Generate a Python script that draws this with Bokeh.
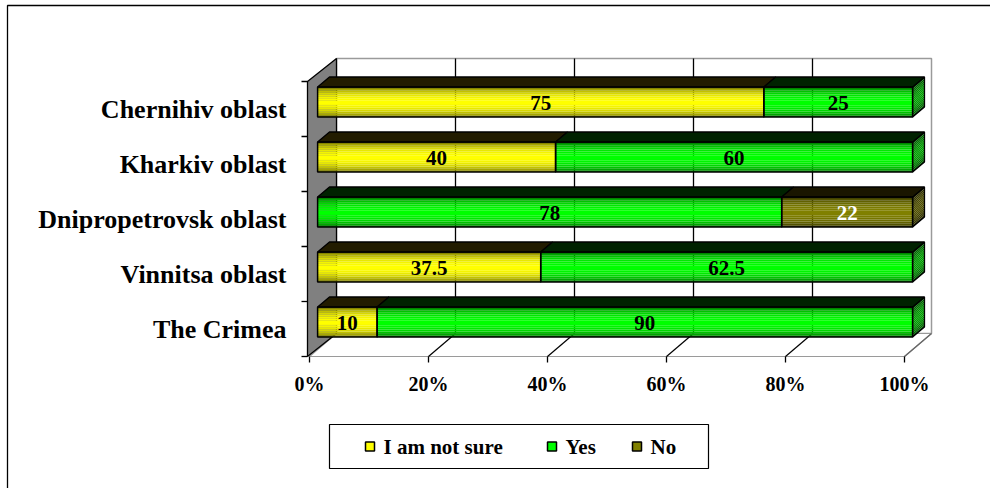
from bokeh.plotting import figure
from bokeh.models import Range1d, ColumnDataSource
from bokeh.core.properties import value
from bokeh.embed import file_html
from bokeh.resources import INLINE

# ---- data -------------------------------------------------------------
regions = ["The Crimea", "Vinnitsa oblast", "Dnipropetrovsk oblast",
           "Kharkiv oblast", "Chernihiv oblast"]          # bottom to top
series_names = ["I am not sure", "Yes", "No"]
not_sure = [10, 37.5, 0, 40, 75]
yes = [90, 62.5, 78, 60, 25]
no = [0, 0, 22, 0, 0]
tick_labels = ["0%", "20%", "40%", "60%", "80%", "100%"]

series_values = [not_sure, yes, no]
base_rgb = [(255, 255, 0), (0, 255, 0), (128, 128, 0)]
top_colors = ["#221c00", "#002200", "#1a1600"]
label_colors = ["black", "black", "white"]

FONT = value("Liberation Serif")

# ---- scale: x in percent, y in category bands ---------------------------
W, H = 990, 488
X0, SX = 309.0, 5.95      # pixel of 0 % on the front plane, px per percent
Y0, SY = 356.0, 55.0      # pixel of the front floor edge, px per band
DX, DY = 27.0 / SX, 23.0 / SY   # full depth of the 3-D box
D1, D2 = 0.30, 0.74             # bar front / back depth fractions
HALF = 15.0 / SY                # half bar height


def px(x):
    return (x - X0) / SX


def py(y):
    return (Y0 - y) / SY


p = figure(width=W, height=H, output_backend="svg", toolbar_location=None,
           x_range=Range1d(px(0), px(W)), y_range=Range1d(py(H), py(0)),
           min_border=0, x_axis_location=None, y_axis_location=None)
p.outline_line_color = None
p.grid.visible = False
p.background_fill_color = "white"
p.border_fill_color = "white"

n = len(regions)

# outer chart border
p.quad(left=[px(7)], right=[px(W + 10)], bottom=[py(H + 10)], top=[py(5)],
       fill_color=None, line_color="black", line_width=1.3)

# back wall
p.patch([DX, 100 + DX, 100 + DX, DX], [DY, DY, n + DY, n + DY],
        fill_color="white", line_color="#9a9a9a", line_width=1.5)
# vertical gridlines on the back wall
grid_pcts = [20, 40, 60, 80]
p.multi_line([[g + DX, g + DX] for g in grid_pcts],
             [[DY, n + DY] for _ in grid_pcts], line_color="black", line_width=1.3)

# floor
p.patch([0, 100, 100 + DX, DX], [0, 0, DY, DY],
        fill_color="white", line_color="#9a9a9a", line_width=1.2)
floor_pcts = [20, 40, 60, 80]
p.multi_line([[g, g + DX] for g in floor_pcts], [[0, DY] for _ in floor_pcts],
             line_color="black", line_width=1.2)
p.line([100, 100 + DX], [0, DY], line_color="#666666", line_width=1.2)

# left side wall
wx = px(307)
p.patch([wx, wx, DX, DX], [0, n, n + DY, DY],
        fill_color="#808080", line_color="black", line_width=1.3)

# category axis ticks
p.segment(x0=[px(301)] * (n + 1), y0=list(range(n + 1)),
          x1=[wx] * (n + 1), y1=list(range(n + 1)), line_color="black", line_width=1.3)

# percent axis ticks
tick_pcts = [0, 20, 40, 60, 80, 100]
p.segment(x0=tick_pcts, y0=[0] * 6, x1=tick_pcts, y1=[-6 / SY] * 6,
          line_color="black", line_width=1.3)
p.text(x=tick_pcts, y=[py(383)] * 6, text=tick_labels, text_font=FONT,
       text_font_style="bold", text_font_size="20px", text_align="center",
       text_baseline="middle", text_color="black")

# category labels
p.text(x=[px(286)] * n, y=[i + 0.5 for i in range(n)], text=regions,
       text_font=FONT, text_font_style="bold", text_font_size="26px",
       text_align="right", text_baseline="middle", text_color="black")

# ---- bars -------------------------------------------------------------
NS = 16
strip_l, strip_r, strip_b, strip_t, strip_c = [], [], [], [], []
tops_x, tops_y, tops_c = [], [], []
side_x, side_y, side_c = [], [], []
outline_l, outline_r, outline_b, outline_t = [], [], [], []
lab_x, lab_y, lab_t, lab_c = [], [], [], []

fdx, fdy = D1 * DX, D1 * DY
bdx, bdy = (D2 - D1) * DX, (D2 - D1) * DY


def shade(rgb, b):
    return "#%02x%02x%02x" % tuple(int(round(c * b)) for c in rgb)


for i in range(n):
    yc = i + 0.5 + fdy
    yb, yt = yc - HALF, yc + HALF
    start = 0.0
    last_k, last_end = None, None
    for k, vals in enumerate(series_values):
        v = vals[i]
        if v <= 0:
            continue
        x0, x1 = start + fdx, start + v + fdx
        for j in range(NS):
            t = (j + 0.5) / NS
            b = 1.0 - 0.55 * abs(2 * t - 1) ** 2.2
            strip_l.append(x0)
            strip_r.append(x1)
            strip_b.append(yb + (yt - yb) * j / NS)
            strip_t.append(yb + (yt - yb) * (j + 1) / NS)
            strip_c.append(shade(base_rgb[k], b))
        outline_l.append(x0)
        outline_r.append(x1)
        outline_b.append(yb)
        outline_t.append(yt)
        tops_x.append([x0, x1, x1 + bdx, x0 + bdx])
        tops_y.append([yt, yt, yt + bdy, yt + bdy])
        tops_c.append(top_colors[k])
        lab_x.append((x0 + x1) / 2)
        lab_y.append(yc - 1.0 / SY)
        lab_t.append(f"{v:g}")
        lab_c.append(label_colors[k])
        start += v
        last_k, last_end = k, x1
    # right end face of the stack
    for j in range(NS):
        t = (j + 0.5) / NS
        b = 0.62 - 0.35 * abs(2 * t - 1) ** 2.0
        ya = yb + (yt - yb) * j / NS
        yz = yb + (yt - yb) * (j + 1) / NS
        side_x.append([last_end, last_end, last_end + bdx, last_end + bdx])
        side_y.append([ya, yz, yz + bdy, ya + bdy])
        side_c.append(shade(base_rgb[last_k], b))
    side_x.append([last_end, last_end, last_end + bdx, last_end + bdx])
    side_y.append([yb, yt, yt + bdy, yb + bdy])
    side_c.append(None)

p.quad(source=ColumnDataSource(dict(l=strip_l, r=strip_r, b=strip_b, t=strip_t, c=strip_c)),
       left="l", right="r", bottom="b", top="t", fill_color="c", line_color=None)
side_fill = [c if c else "rgba(0,0,0,0)" for c in side_c]
side_line = ["black" if c is None else None for c in side_c]
p.patches(source=ColumnDataSource(dict(xs=side_x, ys=side_y, fc=side_fill, lc=side_line)),
          xs="xs", ys="ys", fill_color="fc", line_color="lc", line_width=1.3)
p.patches(tops_x, tops_y, fill_color=tops_c, line_color="black", line_width=1.3)
p.quad(left=outline_l, right=outline_r, bottom=outline_b, top=outline_t,
       fill_color=None, line_color="black", line_width=1.5)

p.text(x=lab_x, y=lab_y, text=lab_t, text_color=lab_c, text_font=FONT,
       text_font_style="bold", text_font_size="21px", text_align="center",
       text_baseline="middle")

# ---- legend -------------------------------------------------------------
p.quad(left=[px(329)], right=[px(708)], bottom=[py(468)], top=[py(424)],
       fill_color="white", line_color="black", line_width=1.2)
leg_sq_px = [370, 552, 637]
leg_fill = [shade(c, 1.0) for c in base_rgb]
ly = py(446)
p.quad(left=[px(v - 5) for v in leg_sq_px], right=[px(v + 4) for v in leg_sq_px],
       bottom=[ly - 4.5 / SY] * 3, top=[ly + 4.5 / SY] * 3,
       fill_color=leg_fill, line_color="black", line_width=1.5)
p.text(x=[px(v + 13) for v in leg_sq_px], y=[ly] * 3, text=series_names,
       text_font=FONT, text_font_style="bold", text_font_size="21px",
       text_align="left", text_baseline="middle", text_color="black")

open("out.html", "w").write(file_html(p, INLINE))
